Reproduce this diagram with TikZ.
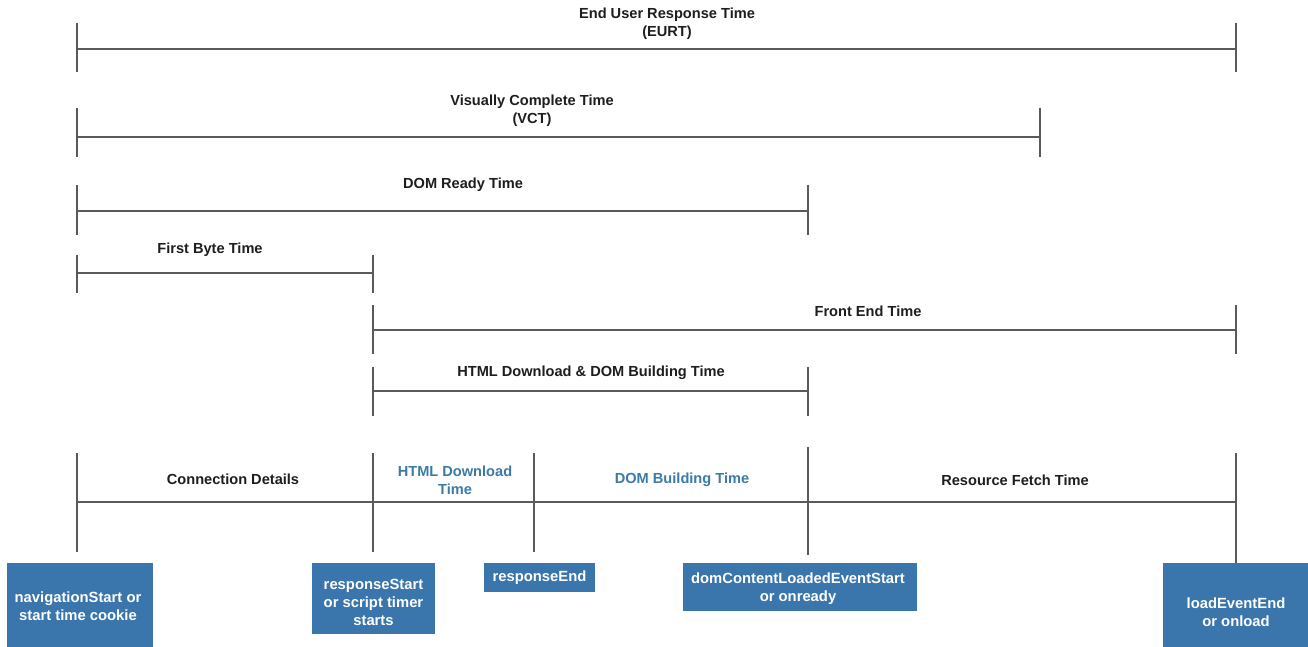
\documentclass[tikz,border=0pt]{standalone}
\usepackage{fontspec}
\setmainfont{Liberation Sans}
\definecolor{boxblue}{HTML}{3A75AC}
\definecolor{lblblue}{HTML}{3B7BA6}
\definecolor{linegray}{HTML}{5A5A5A}
\definecolor{textdark}{HTML}{1E1E1E}
\tikzset{
  bar/.style={draw=linegray, line width=1.3pt},
  lbl/.style={font=\bfseries\fontsize{14.6}{18}\selectfont, text=textdark, align=center, inner sep=0pt},
  bluelbl/.style={lbl, text=lblblue},
  evbox/.style={fill=boxblue, draw=none, inner sep=0pt, anchor=north west},
  boxtxt/.style={font=\bfseries\fontsize{14.8}{18}\selectfont, text=white, align=center, inner sep=0pt}
}
\begin{document}
\begin{tikzpicture}[x=1pt,y=-1pt]
\useasboundingbox (0,0) rectangle (1308,647);
\fill[white] (0,0) rectangle (1308,647);

% ---------- Row 1: EURT ----------
\coordinate (r1a) at (77,49);   \coordinate (r1b) at (1236,49);
\coordinate (r1at) at (77,23);  \coordinate (r1ab) at (77,72);
\coordinate (r1bt) at (1236,23);\coordinate (r1bb) at (1236,72);
\draw[bar] (r1a) -- (r1b);
\draw[bar] (r1at) -- (r1ab);
\draw[bar] (r1bt) -- (r1bb);
\node[lbl] (t1) at (667,23.5) {End User Response Time\\(EURT)};

% ---------- Row 2: VCT ----------
\coordinate (r2a) at (77,137);   \coordinate (r2b) at (1040,137);
\coordinate (r2at) at (77,108);  \coordinate (r2ab) at (77,157);
\coordinate (r2bt) at (1040,108);\coordinate (r2bb) at (1040,157);
\draw[bar] (r2a) -- (r2b);
\draw[bar] (r2at) -- (r2ab);
\draw[bar] (r2bt) -- (r2bb);
\node[lbl] (t2) at (532,111) {Visually Complete Time\\(VCT)};

% ---------- Row 3: DOM Ready ----------
\coordinate (r3a) at (77,211);   \coordinate (r3b) at (808,211);
\coordinate (r3at) at (77,185);  \coordinate (r3ab) at (77,235);
\coordinate (r3bt) at (808,185); \coordinate (r3bb) at (808,235);
\draw[bar] (r3a) -- (r3b);
\draw[bar] (r3at) -- (r3ab);
\draw[bar] (r3bt) -- (r3bb);
\node[lbl] (t3) at (463,185) {DOM Ready Time};

% ---------- Row 4: First Byte ----------
\coordinate (r4a) at (77,273);   \coordinate (r4b) at (373,273);
\coordinate (r4at) at (77,255);  \coordinate (r4ab) at (77,293);
\coordinate (r4bt) at (373,255); \coordinate (r4bb) at (373,293);
\draw[bar] (r4a) -- (r4b);
\draw[bar] (r4at) -- (r4ab);
\draw[bar] (r4bt) -- (r4bb);
\node[lbl] (t4) at (210,250) {First Byte Time};

% ---------- Row 5: Front End ----------
\coordinate (r5a) at (373,330);   \coordinate (r5b) at (1236,330);
\coordinate (r5at) at (373,305);  \coordinate (r5ab) at (373,354);
\coordinate (r5bt) at (1236,305); \coordinate (r5bb) at (1236,354);
\draw[bar] (r5a) -- (r5b);
\draw[bar] (r5at) -- (r5ab);
\draw[bar] (r5bt) -- (r5bb);
\node[lbl] (t5) at (868,311) {Front End Time};

% ---------- Row 6: HTML Download & DOM Building ----------
\coordinate (r6a) at (373,391);   \coordinate (r6b) at (808,391);
\coordinate (r6at) at (373,367);  \coordinate (r6ab) at (373,416);
\coordinate (r6bt) at (808,367);  \coordinate (r6bb) at (808,416);
\draw[bar] (r6a) -- (r6b);
\draw[bar] (r6at) -- (r6ab);
\draw[bar] (r6bt) -- (r6bb);
\node[lbl] (t6) at (591,373) {HTML Download \& DOM Building Time};

% ---------- Row 7: phases ----------
\coordinate (r7a) at (77,502);  \coordinate (r7f) at (1236,502);
\coordinate (k1t) at (77,453);   \coordinate (k1b) at (77,552);
\coordinate (k2t) at (373,453);  \coordinate (k2b) at (373,552);
\coordinate (k3t) at (534,453);  \coordinate (k3b) at (534,552);
\coordinate (k4t) at (808,447);  \coordinate (k4b) at (808,555);
\coordinate (k5t) at (1236,453); \coordinate (k5b) at (1236,563);
\draw[bar] (r7a) -- (r7f);
\draw[bar] (k1t) -- (k1b);
\draw[bar] (k2t) -- (k2b);
\draw[bar] (k3t) -- (k3b);
\draw[bar] (k4t) -- (k4b);
\draw[bar] (k5t) -- (k5b);
\node[lbl] (p1) at (233,479) {Connection Details};
\node[bluelbl] (p2) at (455,480.5) {HTML Download\\Time};
\node[bluelbl] (p3) at (682,480) {DOM Building Time};
\node[lbl] (p4) at (1015,480) {Resource Fetch Time};

% ---------- Event boxes ----------
\node[evbox, minimum width=146, minimum height=90] (e1) at (7,563) {};
\node[boxtxt] (e1t) at (78,606) {navigationStart or\\start time cookie};
\node[evbox, minimum width=123, minimum height=71] (e2) at (312,563) {};
\node[boxtxt] (e2t) at (373.5,602) {responseStart\\or script timer\\starts};
\node[evbox, minimum width=111, minimum height=29] (e3) at (484,563) {};
\node[boxtxt] (e3t) at (539.5,577.5) {responseEnd};
\node[evbox, minimum width=234, minimum height=48] (e4) at (683,563) {};
\node[boxtxt] (e4t) at (798,589) {domContentLoadedEventStart\\or onready};
\node[evbox, minimum width=150, minimum height=90] (e5) at (1163,563) {};
\node[boxtxt] (e5t) at (1236,612) {loadEventEnd\\or onload};
\end{tikzpicture}
\end{document}
